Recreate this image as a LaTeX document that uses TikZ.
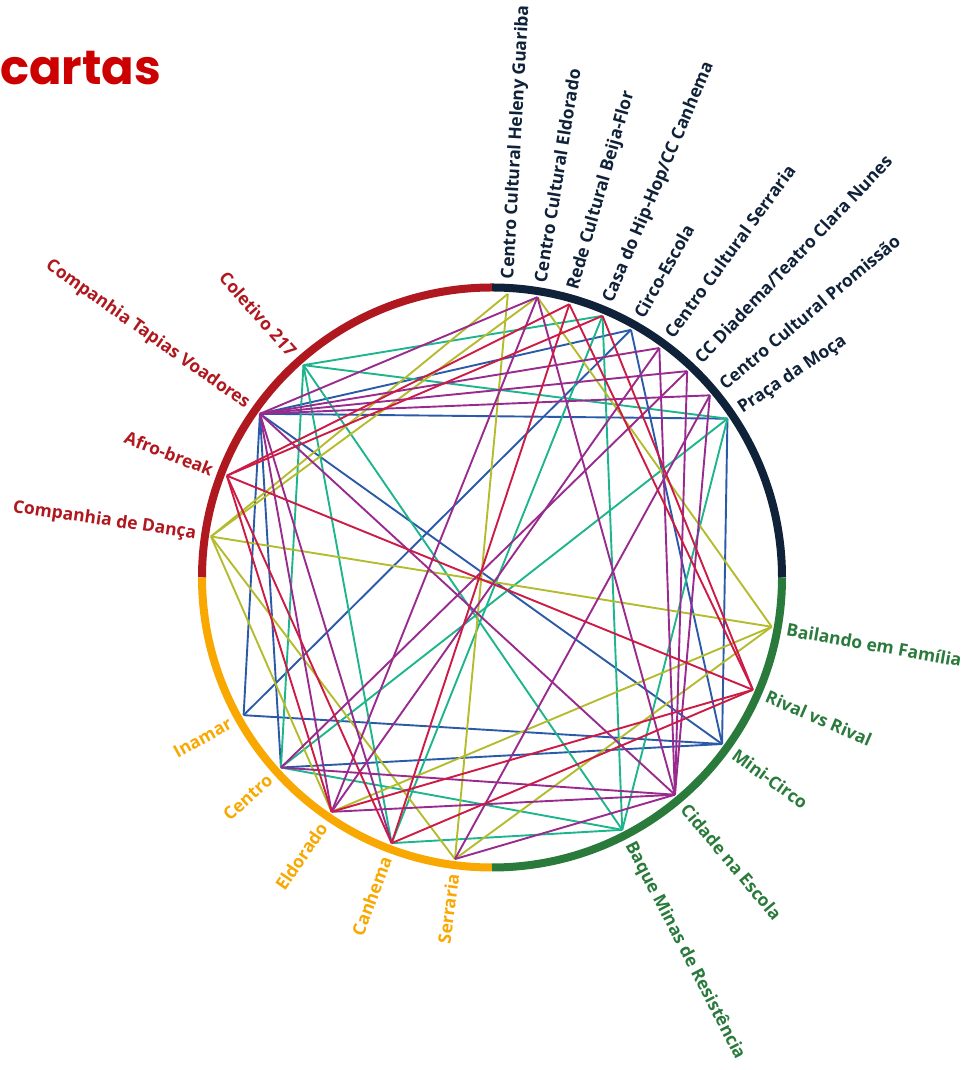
\documentclass[tikz,border=0pt]{standalone}
\usepackage{fontspec}
\setmainfont{Open Sans}
\newfontfamily\titlefont{Poppins}
\usetikzlibrary{calc}
\definecolor{arcRed}{HTML}{B0181F}
\definecolor{arcOrange}{HTML}{F8A800}
\definecolor{arcGreen}{HTML}{2A7A3C}
\definecolor{arcNavy}{HTML}{0F2239}
\definecolor{cOlive}{HTML}{B4BC2E}
\definecolor{cMag}{HTML}{992B8E}
\definecolor{cCrim}{HTML}{CC1B45}
\definecolor{cTeal}{HTML}{1FB58C}
\definecolor{cBlue}{HTML}{2B5BA8}
\definecolor{titleRed}{HTML}{CC0000}
\tikzset{
  ring/.style={line width=8pt},
  chord/.style={line width=1.9pt},
  lab/.style={inner sep=0pt, font=\bfseries\fontsize{17.5}{17.5}\selectfont},
}
\begin{document}
\begin{tikzpicture}[x=1pt,y=1pt]
\useasboundingbox (0,0) rectangle (963,1070);
\coordinate (O) at (492,492.5);
% title
\node[anchor=base west, inner sep=0pt, text=titleRed, font=\titlefont\bfseries\fontsize{48}{48}\selectfont] (title) at (0,985) {cartas};
% node points
\foreach \n/\a in {HG/86.8,CE/80.8,BF/74.2,HH/67.1,CiE/60.7,CS/53.9,CD/46.6,CP/39.9,PM/34.0,
  BE/-10.0,RR/-23.3,MC/-35.9,CN/-49.9,BM/-62.7,
  SE/262.5,CA/249.3,EL/235.6,CT/222.0,IN/209.0,
  CDa/171.7,AB/159.0,TV/144.8,Ct/131.6}{
  \path (O) ++(\a:284) coordinate (\n);
}
% chords: blue
\foreach \p/\q in {TV/PM,TV/MC,TV/IN,TV/CT,IN/CiE,IN/MC,CT/MC,PM/MC,CiE/MC,CiE/TV}
  \draw[chord, cBlue] (\p) -- (\q);
% teal
\foreach \p/\q in {Ct/HH,Ct/PM,Ct/CT,Ct/CA,Ct/BM,HH/CA,HH/BM,PM/CT,PM/BM,CT/BM,CA/BM}
  \draw[chord, cTeal] (\p) -- (\q);
% olive
\foreach \p/\q in {HG/CDa,CE/CDa,HG/SE,CDa/BE,CDa/EL,CDa/SE,EL/BE,SE/BE,CE/BE}
  \draw[chord, cOlive] (\p) -- (\q);
% magenta
\foreach \p/\q in {TV/CE,TV/CS,TV/CD,TV/CP,TV/CN,TV/EL,TV/CA,CE/CN,CS/CN,CD/CN,CP/CN,CT/CN,EL/CN,SE/CN,CE/EL,CS/EL,CD/CT,CP/SE}
  \draw[chord, cMag] (\p) -- (\q);
% crimson
\foreach \p/\q in {AB/BF,AB/HH,AB/RR,AB/EL,AB/CA,HH/RR,BF/RR,RR/EL,RR/CA,BF/CA}
  \draw[chord, cCrim] (\p) -- (\q);
% rings
\draw[ring, arcRed] (O) ++(90:290) arc[start angle=90, end angle=180, radius=290];
\draw[ring, arcOrange] (O) ++(180:290) arc[start angle=180, end angle=270, radius=290];
\draw[ring, arcGreen] (O) ++(270:290) arc[start angle=270, end angle=360, radius=290];
\draw[ring, arcNavy] (O) ++(0:290) arc[start angle=0, end angle=90, radius=290];
% labels right side
\foreach \a/\t/\c/\k in {86.8/Centro Cultural Heleny Guariba/arcNavy/lHG,
  80.8/Centro Cultural Eldorado/arcNavy/lCE,
  74.2/Rede Cultural Beija-Flor/arcNavy/lBF,
  67.1/Casa do Hip-Hop\slash CC Canhema/arcNavy/lHH,
  60.7/Circo-Escola/arcNavy/lCiE,
  53.9/Centro Cultural Serraria/arcNavy/lCS,
  46.6/CC Diadema\slash Teatro Clara Nunes/arcNavy/lCD,
  39.9/Centro Cultural Promissão/arcNavy/lCP,
  34.0/Praça da Moça/arcNavy/lPM,
  -10.0/Bailando em Família/arcGreen/lBE,
  -23.3/Rival vs Rival/arcGreen/lRR,
  -35.9/Mini-Circo/arcGreen/lMC,
  -49.9/Cidade na Escola/arcGreen/lCN,
  -62.7/Baque Minas de Resistência/arcGreen/lBM}{
  \path (O) ++(\a:299) node[lab, text=\c, rotate=\a, anchor=west] (\k) {\t};
}
% labels left side
\foreach \a/\t/\c/\k in {262.5/Serraria/arcOrange/lSE,
  249.3/Canhema/arcOrange/lCA,
  235.6/Eldorado/arcOrange/lEL,
  222.0/Centro/arcOrange/lCT,
  209.0/Inamar/arcOrange/lIN,
  171.7/Companhia de Dança/arcRed/lCDa,
  159.0/Afro-break/arcRed/lAB,
  144.8/Companhia Tapias Voadores/arcRed/lTV,
  131.6/Coletivo 217/arcRed/lCt}{
  \pgfmathsetmacro{\r}{\a-180}
  \path (O) ++(\a:299) node[lab, text=\c, rotate=\r, anchor=east] (\k) {\t};
}
\end{tikzpicture}
\end{document}
